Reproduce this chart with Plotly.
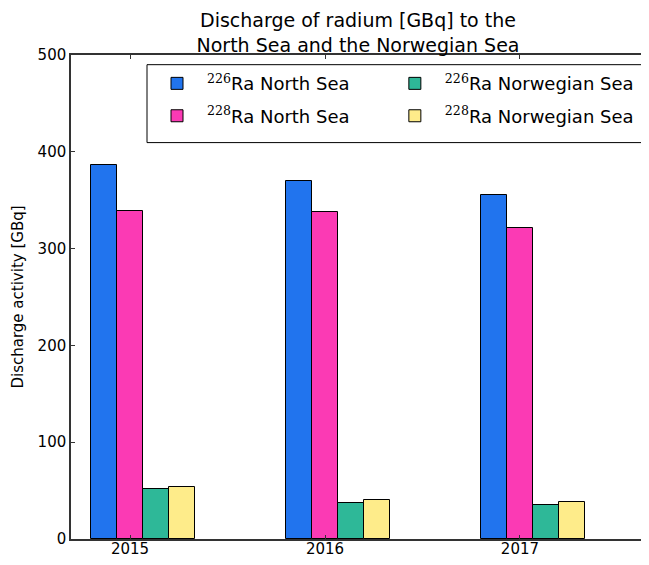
import plotly.graph_objects as go

years = [2015, 2016, 2017]

ra226_north_sea = [386, 370, 355]
ra228_north_sea = [339, 338, 321]
ra226_norwegian_sea = [52, 37, 35]
ra228_norwegian_sea = [53.5, 40, 38]

names = [
    "<sup><span style=\"font-family:'DejaVu Serif'\">226</span></sup>Ra North Sea",
    "<sup><span style=\"font-family:'DejaVu Serif'\">228</span></sup>Ra North Sea",
    "<sup><span style=\"font-family:'DejaVu Serif'\">226</span></sup>Ra Norwegian Sea",
    "<sup><span style=\"font-family:'DejaVu Serif'\">228</span></sup>Ra Norwegian Sea",
]
colors = ["#2174ee", "#fb3ab4", "#2eb898", "#feec8a"]
legend_ids = ["legend", "legend", "legend2", "legend2"]

bar_w = 0.8 / 6

fig = go.Figure()

for i, vals in enumerate([ra226_north_sea, ra228_north_sea,
                          ra226_norwegian_sea, ra228_norwegian_sea]):
    fig.add_trace(go.Bar(
        x=years,
        y=vals,
        name=names[i],
        width=bar_w,
        offset=-0.2 + i * bar_w,
        marker=dict(color=colors[i], line=dict(color="black", width=1)),
        legend=legend_ids[i],
        legendgroup="g%d" % i,
    ))

# the page body adds an 8px margin, so the figure is kept smaller than the
# window (no scrollbar) and shifted up/left by that amount
legend_style = dict(
    orientation="v",
    xanchor="left",
    y=0.979,
    yanchor="top",
    borderwidth=0,
    bgcolor="rgba(0,0,0,0)",
    font=dict(size=18),
    itemwidth=50,
    tracegroupgap=6,
)

fig.update_layout(
    width=641,
    height=549,
    margin=dict(l=63, r=0, t=47, b=18),
    plot_bgcolor="white",
    paper_bgcolor="white",
    font=dict(family="DejaVu Sans", size=15, color="black"),
    title=dict(
        text="Discharge of radium [GBq] to the<br>North Sea and the Norwegian Sea",
        font=dict(size=19),
        x=350 / 641,
        xanchor="center",
        y=1 - 19 / 549,
        yanchor="top",
    ),
    showlegend=True,
    legend=dict(x=0.1315, **legend_style),
    legend2=dict(x=0.543, **legend_style),
    shapes=[dict(
        type="rect", xref="paper", yref="paper",
        x0=0.1315, x1=0.998, y0=0.819, y1=0.980,
        line=dict(color="black", width=1),
        fillcolor="white", layer="above",
    )],
    bargap=0,
)

fig.update_xaxes(
    range=[2014.697, 2017.662],
    tickvals=years,
    ticktext=[str(y) for y in years],
    ticks="inside",
    ticklen=4,
    tickcolor="#333",
    ticklabelstandoff=-5,
    showline=True,
    linecolor="#333",
    linewidth=1.5,
    mirror="ticks",
    showgrid=False,
    zeroline=False,
    automargin=False,
)

fig.update_yaxes(
    range=[0, 500],
    dtick=100,
    ticks="inside",
    ticklen=4,
    tickcolor="#333",
    showline=True,
    linecolor="#333",
    linewidth=1.5,
    mirror=False,
    showgrid=False,
    zeroline=False,
    automargin=False,
    title=dict(text="Discharge activity [GBq]", font=dict(size=15), standoff=10),
)

fig.write_html("out.html")
